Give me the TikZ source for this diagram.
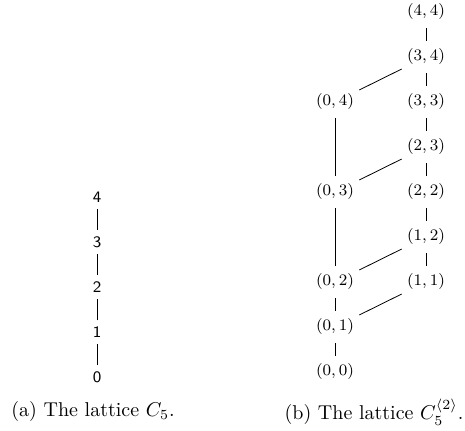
\documentclass[tikz,border=0pt]{standalone}
\usepackage{tikz}
\usetikzlibrary{positioning}
\tikzset{
  elt/.style={inner xsep=2.5pt, inner ysep=4pt, font=\footnotesize},
  chainelt/.style={inner sep=3pt, font=\sffamily\footnotesize},
}
\begin{document}
\begin{tikzpicture}[x=0.5pt,y=-0.5pt]
    \useasboundingbox (0,0) rectangle (465,431);
    % (a) the chain
    \foreach \i in {0,...,4}
      \node[chainelt] (c\i) at (97,{377-45*\i}) {\i};
    \foreach \i [count=\j] in {0,...,3}
      \draw (c\i) -- (c\j);
    % (b) pairs (a,b) with a<=b
    \node[elt] (p00) at (335,372) {$(0,0)$};
    \node[elt] (p01) at (335,327) {$(0,1)$};
    \node[elt] (p02) at (335,282) {$(0,2)$};
    \node[elt] (p11) at (426,282) {$(1,1)$};
    \node[elt] (p12) at (426,237) {$(1,2)$};
    \node[elt] (p03) at (335,192) {$(0,3)$};
    \node[elt] (p22) at (426,192) {$(2,2)$};
    \node[elt] (p23) at (426,147) {$(2,3)$};
    \node[elt] (p04) at (335,102) {$(0,4)$};
    \node[elt] (p33) at (426,102) {$(3,3)$};
    \node[elt] (p34) at (426,57) {$(3,4)$};
    \node[elt] (p44) at (426,12) {$(4,4)$};
    \foreach \a/\b in {p00/p01, p01/p02, p01/p11, p02/p03, p02/p12, p11/p12,
                       p12/p22, p22/p23, p03/p23, p03/p04, p23/p33, p33/p34,
                       p04/p34, p34/p44}
      \draw (\a) -- (\b);
    % captions
    \node (capa) at (93,412) {(a) The lattice $C_5$.};
    \node (capb) at (374,412) {(b) The lattice $C_5^{\langle 2\rangle}$.};
  \end{tikzpicture}
\end{document}
